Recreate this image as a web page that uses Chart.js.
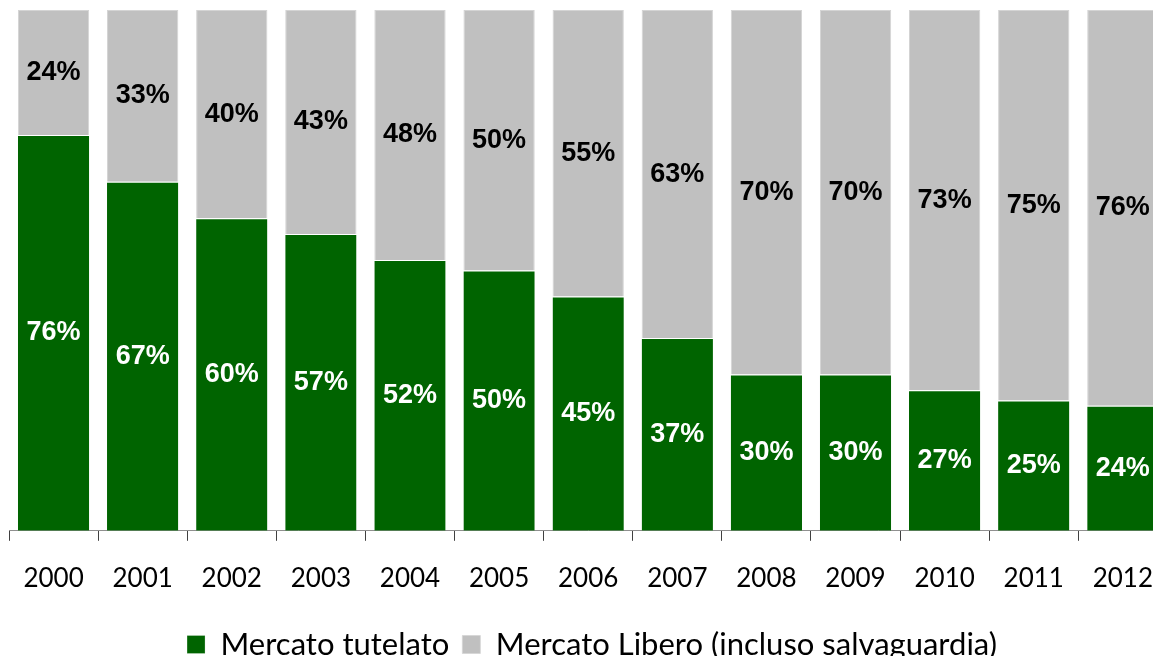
<!DOCTYPE html>
<html>
<head>
<meta charset="utf-8">
<script src="https://cdn.jsdelivr.net/npm/chart.js@4"></script>
<style>
  html, body { margin: 0; padding: 0; background: #fff; overflow: hidden; }
  #wrap { width: 1175px; height: 656px; }
</style>
</head>
<body>
<div id="wrap"><canvas id="quoteChart"></canvas></div>
<script>
const years = ["2000", "2001", "2002", "2003", "2004", "2005", "2006", "2007", "2008", "2009", "2010", "2011", "2012"];
const tutelato = [76, 67, 60, 57, 52, 50, 45, 37, 30, 30, 27, 25, 24]; // green, bottom
const libero = [24, 33, 40, 43, 48, 50, 55, 63, 70, 70, 73, 75, 76];   // gray, top

// draws the % inside each bar segment
const barLabels = {
    id: "barLabels",
    afterDatasetsDraw(chart) {
        const ctx = chart.ctx;
        ctx.save();
        ctx.font = "bold 27px 'Liberation Sans', Arial, sans-serif";
        ctx.textAlign = "center";
        ctx.textBaseline = "middle";
        chart.data.datasets.forEach(function(ds, i) {
            const meta = chart.getDatasetMeta(i);
            meta.data.forEach(function(bar, j) {
                const mid = (bar.y + bar.base) / 2;
                ctx.fillStyle = i === 0 ? "#ffffff" : "#000000";
                ctx.fillText(ds.data[j] + "%", bar.x, mid);
            });
        });
        ctx.restore();
    }
};

new Chart("quoteChart", {
    type: "bar",
    data: {
        labels: years,
        datasets: [{
            label: "Mercato tutelato",
            data: tutelato,
            backgroundColor: "#006400",
            borderColor: "#ffffff",
            borderWidth: {top: 1, left: 0, right: 0, bottom: 0},
            barPercentage: 0.8,
            categoryPercentage: 1
        }, {
            label: "Mercato Libero (incluso salvaguardia)",
            data: libero,
            backgroundColor: "#c0c0c0",
            borderColor: "#d4d4d4",
            borderWidth: {top: 1, left: 1, right: 1, bottom: 0},
            barPercentage: 0.8,
            categoryPercentage: 1
        }]
    },
    options: {
        responsive: true,
        maintainAspectRatio: false,
        animation: false,
        layout: { padding: { left: 9, right: 0, top: 10, bottom: -14 } },
        scales: {
            x: {
                stacked: true,
                offset: true,
                grid: {
                    offset: true,
                    drawOnChartArea: false,
                    drawTicks: true,
                    tickLength: 10,
                    tickColor: "#404040"
                },
                border: { color: "#909090", width: 1 },
                ticks: {
                    color: "#000000",
                    padding: 22,
                    font: { family: "Lato, 'Open Sans', sans-serif", size: 26 }
                }
            },
            y: {
                stacked: true,
                display: false,
                min: 0,
                max: 100
            }
        },
        plugins: {
            legend: {
                position: "bottom",
                labels: {
                    color: "#000000",
                    boxWidth: 18,
                    boxHeight: 18,
                    padding: 13,
                    font: { family: "Lato, 'Open Sans', sans-serif", size: 31 }
                }
            },
            tooltip: { enabled: false }
        }
    },
    plugins: [barLabels]
});
</script>
</body>
</html>
